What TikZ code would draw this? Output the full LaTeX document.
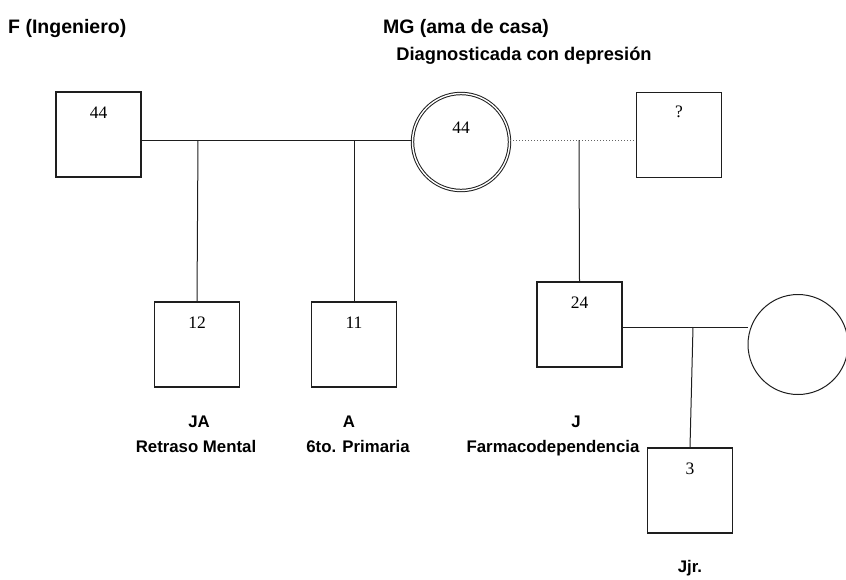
\documentclass[tikz,border=0pt]{standalone}
\usepackage{fontspec}
\setmainfont{Liberation Sans}
\newfontfamily\agefont{Liberation Serif}
\usetikzlibrary{positioning}

\definecolor{inkgray}{RGB}{30, 30, 30}
\definecolor{dotgray}{RGB}{100, 100, 100}

\begin{document}
\begin{tikzpicture}[x=1pt, y=-1pt,
    male/.style={draw=inkgray, line width=1.3pt, minimum size=85pt, inner sep=0pt},
    female/.style={circle, draw=inkgray, line width=1pt, minimum size=100pt, inner sep=0pt},
    index/.style={female, double, double distance=1.4pt, minimum size=97pt},
    age/.style={font=\agefont\fontsize{17.5}{19}\selectfont, inner sep=0pt},
    tag/.style={font=\bfseries\fontsize{19.5}{21}\selectfont, inner sep=0pt, anchor=base},
    note/.style={font=\bfseries\fontsize{16.8}{18}\selectfont, inner sep=0pt, anchor=base},
    link/.style={draw=inkgray, line width=1pt},
    weak/.style={draw=dotgray, line width=1pt, dotted}]
    \useasboundingbox (0,0) rectangle (846,579);

    % Parents
    \node[male] (f) at (98.5,134.5) {};
    \node[age, below=15pt of f.north] (fage) {44};
    \node[index] (mg) at (461,142) {};
    \node[age, below=29pt of mg.north] (mgage) {44};
    \node[male] (q) at (679,135) {};
    \node[age, below=14pt of q.north] (qage) {?};

    \node[tag, anchor=base west] (ftag) at (8,33) {F (Ingeniero)};
    \node[tag] (mgtag) at (466,33) {MG (ama de casa)};
    \node[tag, font=\bfseries\fontsize{18.3}{20}\selectfont] (dxtag) at (524,60) {Diagnosticada con depresión};

    % Children
    \node[male] (ja) at (197,344.5) {};
    \node[age, below=15pt of ja.north] (jaage) {12};
    \node[male] (a) at (354,344.5) {};
    \node[age, below=15pt of a.north] (aage) {11};
    \node[male] (j) at (579.5,324.5) {};
    \node[age, below=15pt of j.north] (jage) {24};

    \node[note] (jatag) at (199,427) {JA};
    \node[note] (janote) at (196,452) {Retraso Mental};
    \node[note] (atag) at (349,427) {A};
    \node[note] (anote) at (358,452) {6to. Primaria};
    \node[note] (jtag) at (576,427) {J};
    \node[note] (jnote) at (553,452) {Farmacodependencia};

    % Second generation
    \node[female] (w) at (798,344.5) {};
    \node[male] (jjr) at (690,490.5) {};
    \node[age, below=15pt of jjr.north] (jjrage) {3};
    \node[note] (jjrtag) at (690,572) {Jjr.};

    % Couples and descent lines
    \coordinate (fm1) at (198,140);
    \coordinate (fm2) at (354,140);
    \coordinate (mq) at (579,140);
    \coordinate (jw) at (693,327);

    \draw[link] (f.east |- fm1) -- (mg.west |- fm1);
    \draw[link] (fm1) -- (ja.north);
    \draw[link] (fm2) -- (a.north);
    \draw[weak] (mg.east |- mq) -- (q.west |- mq);
    \draw[link] (mq) -- (j.north);
    \draw[link] (j.east |- jw) -- (w.west |- jw);
    \draw[link] (jw) -- (jjr.north);
\end{tikzpicture}
\end{document}
